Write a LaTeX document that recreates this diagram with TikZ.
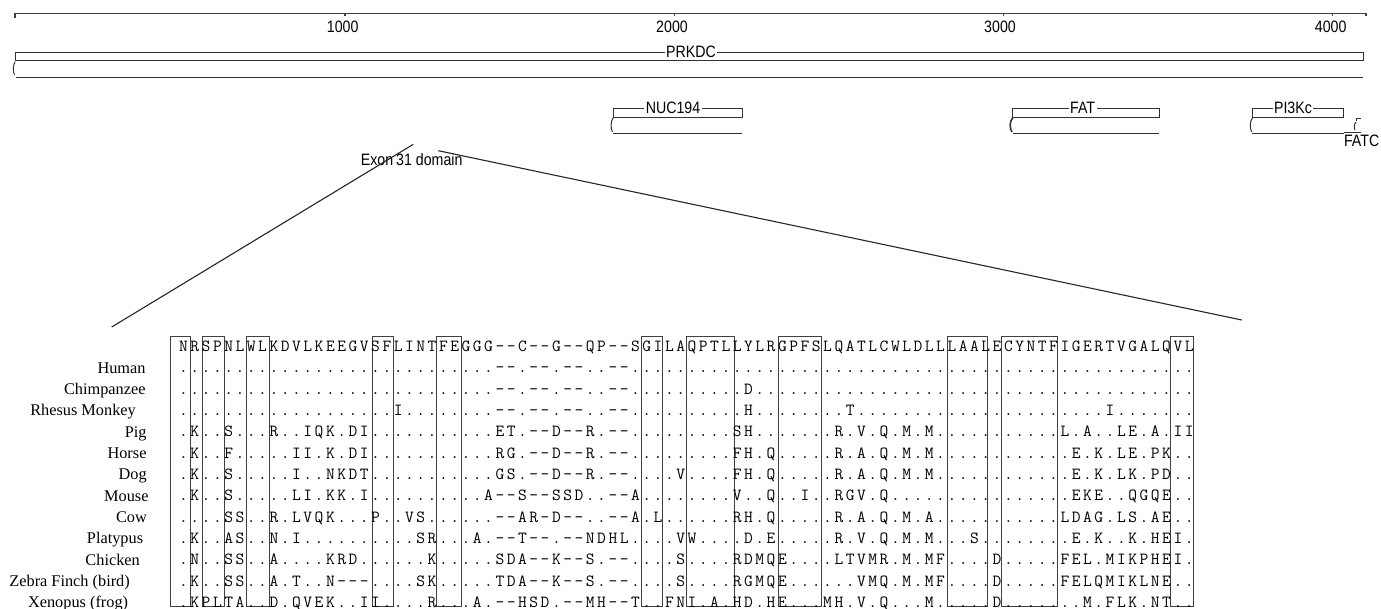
\documentclass[tikz,border=0pt]{standalone}
\usepackage{fontspec}
\newfontfamily\dsans[FakeStretch=0.86]{Liberation Sans}
\newfontfamily\spserif{Liberation Serif}
\makeatletter
\def\dotrun#1{\ifnum#1>0 .\expandafter\dotrun\expandafter{\number\numexpr#1-1\relax}\fi}
\def\alnrow#1{\edef\aln@tmp{#1}\expandafter\aln@loop\aln@tmp\relax}
\def\aln@loop#1{\ifx\relax#1\else\makebox[11.3pt]{#1}\expandafter\aln@loop\fi}
\makeatother
\tikzset{
  rulerline/.style={line width=1.1pt, draw=black!75},
  dombox/.style={line width=1pt, draw=black!80},
  domlab/.style={font=\dsans\fontsize{16.5}{16.5}\selectfont, fill=white, inner sep=1.5pt},
  ticklab/.style={font=\dsans\fontsize{16.5}{16.5}\selectfont, inner sep=0pt},
  alnbox/.style={line width=0.9pt, draw=black!75},
  alnrowsty/.style={font=\ttfamily\addfontfeature{FakeBold=1}\fontsize{17}{17}\selectfont, inner sep=0pt, anchor=base west},
  species/.style={font=\spserif\fontsize{16.3}{16.3}\selectfont, inner sep=0pt, anchor=base east},
  zoomline/.style={line width=1.1pt, draw=black!85},
}
\begin{document}
\begin{tikzpicture}[x=1pt,y=-1pt]
\useasboundingbox (0,0) rectangle (1381,609);
% ruler
\draw[rulerline] (15,18.3) -- (15,13.3) -- (1366,13.3) -- (1366,16.5);
\foreach \tx in {345,674.2,1003.5,1332.7} \draw[rulerline] (\tx,13.3) -- (\tx,16);
\node[ticklab] (t1) at (342.7,27) {1000};
\node[ticklab] (t2) at (672,27) {2000};
\node[ticklab] (t3) at (1000,27) {3000};
\node[ticklab] (t4) at (1330.7,27) {4000};
% PRKDC
\draw[dombox] (15.7,52.3) rectangle (1363,61);
\draw[dombox] (1363,77.7) -- (15.7,77.7);
\draw[dombox] (15.2,61.7) .. controls (13,64) and (12.8,72) .. (14.5,75);
\node[domlab] (prkdc) at (691,52.3) {PRKDC};
% NUC194
\draw[dombox] (613.2,108.3) rectangle (742.2,117.3);
\draw[dombox] (742.2,133.3) -- (613.2,133.3);
\draw[dombox] (613.2,117.8) .. controls (610.5,121) and (610.5,129) .. (612.5,132);
\node[domlab] (nuc) at (673,108.3) {NUC194};
% FAT
\draw[dombox] (1012.7,108.3) rectangle (1159,117.3);
\draw[dombox] (1159,133.3) -- (1012.7,133.3);
\draw[dombox,line width=1.6pt] (1012.7,117.8) .. controls (1009.5,121) and (1009.5,129) .. (1012,132);
\node[domlab] (fat) at (1082.6,108.3) {FAT};
% PI3Kc
\draw[dombox] (1252.4,108.3) rectangle (1343.8,117.3);
\draw[dombox] (1343.8,133.3) -- (1252.4,133.3);
\draw[dombox] (1252.4,117.8) .. controls (1249.7,121) and (1249.7,129) .. (1251.7,132);
\node[domlab] (pik) at (1293,108.3) {PI3Kc};
% FATC
\draw[dombox] (1356,121) -- (1356,118.3) -- (1361,118.3);
\draw[dombox] (1356,122) .. controls (1354,124) and (1354,128) .. (1355,130);
\draw[dombox] (1343.8,132.7) -- (1361,132.7);
\node[ticklab, anchor=east] (fatc) at (1379.5,141) {FATC};
% exon label and zoom lines
\node[ticklab] (exon) at (411.7,160) {Exon\hspace{-1pt} 31 domain};
\coordinate (lt) at (413.3,144.3);
\coordinate (lb) at (111.7,327);
\coordinate (rt) at (438.3,150.7);
\coordinate (rb) at (1241.7,320);
\draw[zoomline] (lt) -- (lb);
\draw[zoomline] (rt) -- (rb);
% alignment boxes
\foreach \xa/\xb in {170.7/190.7,202.3/224,246.7/269.3,372.7/393.3,436/461,641/662.7,686/734,778.3/821,947.7/987.3,1001.7/1057.7,1170.7/1193.3}
  \draw[alnbox] (\xa,336.5) rectangle (\xb,606.5);
% alignment rows
\def\xs{177.65}
\def\bo{5.2}
\node[alnrowsty] (a0) at (\xs,{346.5+\bo}) {\alnrow{NRSPNLWLKDVLKEEGVSFLINTFEGGG--C--G--QP--SGILAQPTLLYLRGPFSLQATLCWLDLLLAALECYNTFIGERTVGALQVL}};
\node[alnrowsty] (a1) at (\xs,{346.5+1*21.3+\bo}) {\alnrow{\dotrun{28}--.--.--..--\dotrun{50}}};
\node[alnrowsty] (a2) at (\xs,{346.5+2*21.3+\bo}) {\alnrow{\dotrun{28}--.--.--..--\dotrun{10}D\dotrun{39}}};
\node[alnrowsty] (a3) at (\xs,{346.5+3*21.3+\bo}) {\alnrow{\dotrun{19}I\dotrun{8}--.--.--..--\dotrun{10}H\dotrun{8}T\dotrun{22}I\dotrun{7}}};
\node[alnrowsty] (a4) at (\xs,{346.5+4*21.3+\bo}) {\alnrow{.K..S...R..IQK.DI\dotrun{11}ET.--D--R.--.\dotrun{8}SH\dotrun{6}.R.V.Q.M.M.\dotrun{10}L.A..LE.A.II}};
\node[alnrowsty] (a5) at (\xs,{346.5+5*21.3+\bo}) {\alnrow{.K..F.....II.K.DI\dotrun{11}RG.--D--R.--.\dotrun{8}FH.Q\dotrun{4}.R.A.Q.M.M.\dotrun{10}.E.K.LE.PK..}};
\node[alnrowsty] (a6) at (\xs,{346.5+6*21.3+\bo}) {\alnrow{.K..S.....I..NKDT\dotrun{11}GS.--D--R.--.\dotrun{3}V\dotrun{4}FH.Q\dotrun{4}.R.A.Q.M.M.\dotrun{10}.E.K.LK.PD..}};
\node[alnrowsty] (a7) at (\xs,{346.5+7*21.3+\bo}) {\alnrow{.K..S.....LI.KK.I\dotrun{10}A--S--SSD..--A\dotrun{8}V..Q..I..RGV.Q.....\dotrun{10}.EKE..QGQE..}};
\node[alnrowsty] (a8) at (\xs,{346.5+8*21.3+\bo}) {\alnrow{....SS..R.LVQK...P..VS.\dotrun{5}--AR-D--..--A.L\dotrun{6}RH.Q\dotrun{4}.R.A.Q.M.A.\dotrun{10}LDAG.LS.AE..}};
\node[alnrowsty] (a9) at (\xs,{346.5+9*21.3+\bo}) {\alnrow{.K..AS..N.I\dotrun{10}SR...A.--T--.--NDHL....VW....D.E\dotrun{4}.R.V.Q.M.M.\dotrun{2}S\dotrun{7}.E.K..K.HEI.}};
\node[alnrowsty] (a10) at (\xs,{346.5+10*21.3+\bo}) {\alnrow{.N..SS..A....KRD.\dotrun{5}K\dotrun{5}SDA--K--S.--.\dotrun{3}S\dotrun{4}RDMQE\dotrun{3}.LTVMR.M.MF\dotrun{4}D\dotrun{5}FEL.MIKPHEI.}};
\node[alnrowsty] (a11) at (\xs,{346.5+11*21.3+\bo}) {\alnrow{.K..SS..A.T..N---\dotrun{4}SK\dotrun{5}TDA--K--S.--.\dotrun{3}S\dotrun{4}RGMQE\dotrun{3}...VMQ.M.MF\dotrun{4}D\dotrun{5}FELQMIKLNE..}};
\node[alnrowsty] (a12) at (\xs,{346.5+12*21.3+\bo}) {\alnrow{.KPLTA..D.QVEK..II.\dotrun{3}R\dotrun{2}.A.--HSD.--MH--T..FNI.A.HD.HE\dotrun{3}MH.V.Q...M.\dotrun{4}D\dotrun{5}..M.FLK.NT..}};
% species labels
\node[species] (s1) at (145.7,{346.5+1*21.3+5.5}) {Human};
\node[species] (s2) at (145.7,{346.5+2*21.3+5.5}) {Chimpanzee};
\node[species] (s3) at (136,{346.5+3*21.3+5.5}) {Rhesus Monkey};
\node[species] (s4) at (146.7,{346.5+4*21.3+5.5}) {Pig};
\node[species] (s5) at (146.7,{346.5+5*21.3+5.5}) {Horse};
\node[species] (s6) at (147,{346.5+6*21.3+5.5}) {Dog};
\node[species] (s7) at (148.7,{346.5+7*21.3+5.5}) {Mouse};
\node[species] (s8) at (147,{346.5+8*21.3+5.5}) {Cow};
\node[species] (s9) at (143.3,{346.5+9*21.3+5.5}) {Platypus};
\node[species] (s10) at (140,{346.5+10*21.3+5.5}) {Chicken};
\node[species] (s11) at (130,{346.5+11*21.3+5.5}) {Zebra Finch (bird)};
\node[species] (s12) at (128.3,{346.5+12*21.3+5.5}) {Xenopus (frog)};
\end{tikzpicture}
\end{document}
